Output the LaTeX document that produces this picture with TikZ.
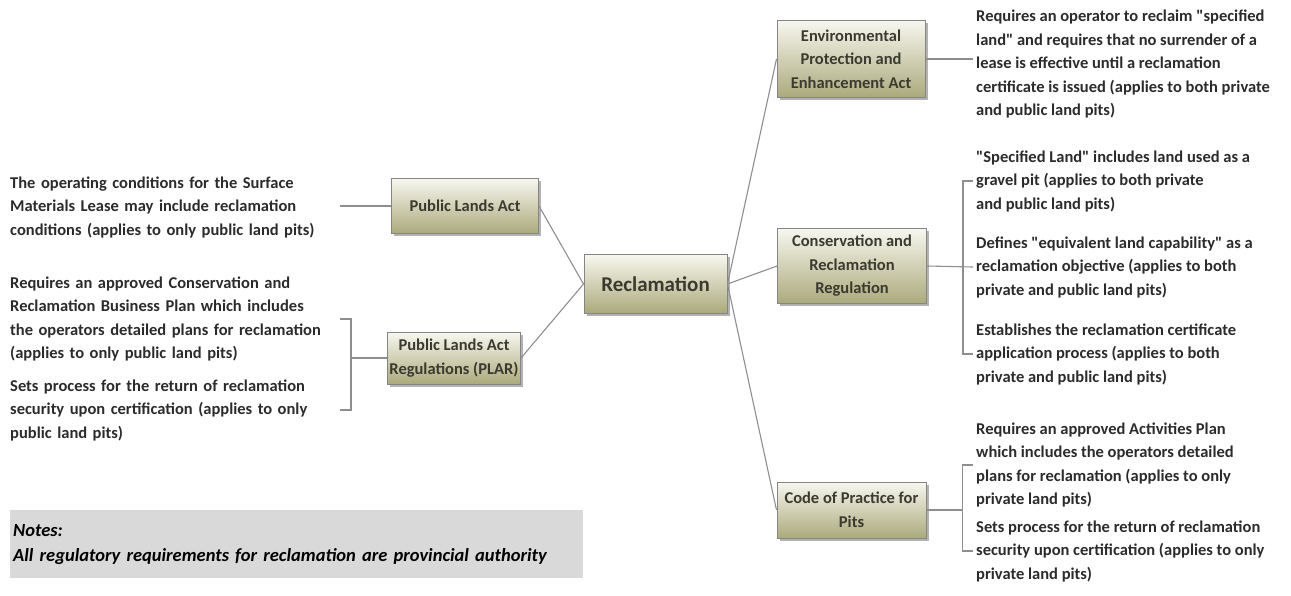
\documentclass[tikz,border=0pt]{standalone}
\usepackage{fontspec}
\setmainfont{Carlito}
\newfontfamily\mapface{Carlito}
\usepackage{xcolor}
\usepackage{tikz}
\usetikzlibrary{positioning,shadows}
\definecolor{mapText}{HTML}{2B2B2B}
\definecolor{mapBoxText}{HTML}{3A3A30}
\definecolor{mapLine}{HTML}{8E8E8E}
\definecolor{mapBorder}{HTML}{858585}
\definecolor{mapTop}{HTML}{F7F7EF}
\definecolor{mapBottom}{HTML}{ABAA7C}
\definecolor{mapNote}{HTML}{D9D9D9}
\newcommand{\mapfont}{\mapface\fontsize{16.5}{23.5}\selectfont\bfseries}
\tikzset{
  topic/.style={rectangle, draw=mapBorder, line width=1pt, top color=mapTop, bottom color=mapBottom, align=center, inner sep=2pt, text=mapBoxText, font=\mapfont, drop shadow={shadow xshift=2.5pt, shadow yshift=-2.5pt, opacity=0.3, fill=black}},
  root/.style={topic, font=\mapface\fontsize{21}{24}\selectfont\bfseries},
  leftnote/.style={anchor=west, align=left, text width=330pt, inner xsep=0pt, inner ysep=2pt, text=mapText, font=\mapfont},
  rightnote/.style={anchor=west, align=left, inner sep=3pt, text=mapText, font=\mapfont},
  notebox/.style={anchor=north west, fill=mapNote, align=left, text width=567pt, minimum height=68pt, inner xsep=3pt, text=black, font=\mapface\fontsize{18.5}{27}\selectfont\bfseries\itshape},
  link/.style={draw=mapLine, line width=1.1pt}
}
\begin{document}
\begin{tikzpicture}[x=1pt, y=-1pt]
  \useasboundingbox (0,0) rectangle (1291,596);
  % topics
  \node[root, minimum width=143pt, minimum height=58pt] (recl) at (655.5,284) {Reclamation};
  \node[topic, minimum width=147pt, minimum height=55pt] (pla) at (465,206) {Public Lands Act};
  \node[topic, minimum width=126pt, minimum height=52pt] (plar) at (454,358) {Public Lands Act\\Regulations (PLAR)};
  \node[topic, minimum width=148pt, minimum height=77pt] (env) at (851,59) {Environmental\\Protection and\\Enhancement Act};
  \node[topic, minimum width=149pt, minimum height=75pt] (cons) at (852,266) {Conservation and\\Reclamation\\Regulation};
  \node[topic, minimum width=149pt, minimum height=56pt] (code) at (851.5,510) {Code of Practice for\\Pits};

  % notes, left
  \node[leftnote] (plaNote) at (10,207) {The operating conditions for the Surface\\Materials Lease may include reclamation\\conditions (applies to only public land pits)};
  \node[leftnote] (plarA) at (10,319) {Requires an approved Conservation and\\Reclamation Business Plan which includes\\the operators detailed plans for reclamation\\(applies to only public land pits)};
  \node[leftnote] (plarB) at (10,410) {Sets process for the return of reclamation\\security upon certification (applies to only\\public land pits)};

  % notes, right
  \node[rightnote] (envNote) at (973,64) {Requires an operator to reclaim "specified\\land" and requires that no surrender of a\\lease is effective until a reclamation\\certificate is issued (applies to both private\\and public land pits)};
  \node[rightnote] (consA) at (973,181) {"Specified Land" includes land used as a\\gravel pit (applies to both private\\and public land pits)};
  \node[rightnote] (consB) at (973,267) {Defines "equivalent land capability" as a\\reclamation objective (applies to both\\private and public land pits)};
  \node[rightnote] (consC) at (973,354) {Establishes the reclamation certificate\\application process (applies to both\\private and public land pits)};
  \node[rightnote] (codeA) at (973,465) {Requires an approved Activities Plan\\which includes the operators detailed\\plans for reclamation (applies to only\\private land pits)};
  \node[rightnote] (codeB) at (973,551) {Sets process for the return of reclamation\\security upon certification (applies to only\\private land pits)};

  \node[notebox] (notes) at (10,510) {Notes:\\[-2pt]All regulatory requirements for reclamation are provincial authority\\[2pt]};

  % links
  \draw[link] (recl.west) -- (pla.east);
  \draw[link] (recl.west) -- (plar.east);
  \draw[link] (recl.east) -- (env.west);
  \draw[link] (recl.east) -- (cons.west);
  \draw[link] (recl.east) -- (code.west);
  \draw[link] (pla.west) -- (pla.west -| plaNote.east);
  \draw[link] (plar.west) -- ++(-36,0) coordinate (plarFork);
  \draw[link] (plarA.east) -| (plarFork) |- (plarB.east);
  \draw[link] (env.east) -- (env.east -| envNote.west);
  \draw[link] (cons.east) -- (consB.west);
  \draw[link] (consA.west) -- ++(-10,0) |- (consC.west);
  \draw[link] (code.east) -- ++(36,0) coordinate (codeFork);
  \draw[link] (codeA.west) -| (codeFork) |- (codeB.west);
\end{tikzpicture}
\end{document}
